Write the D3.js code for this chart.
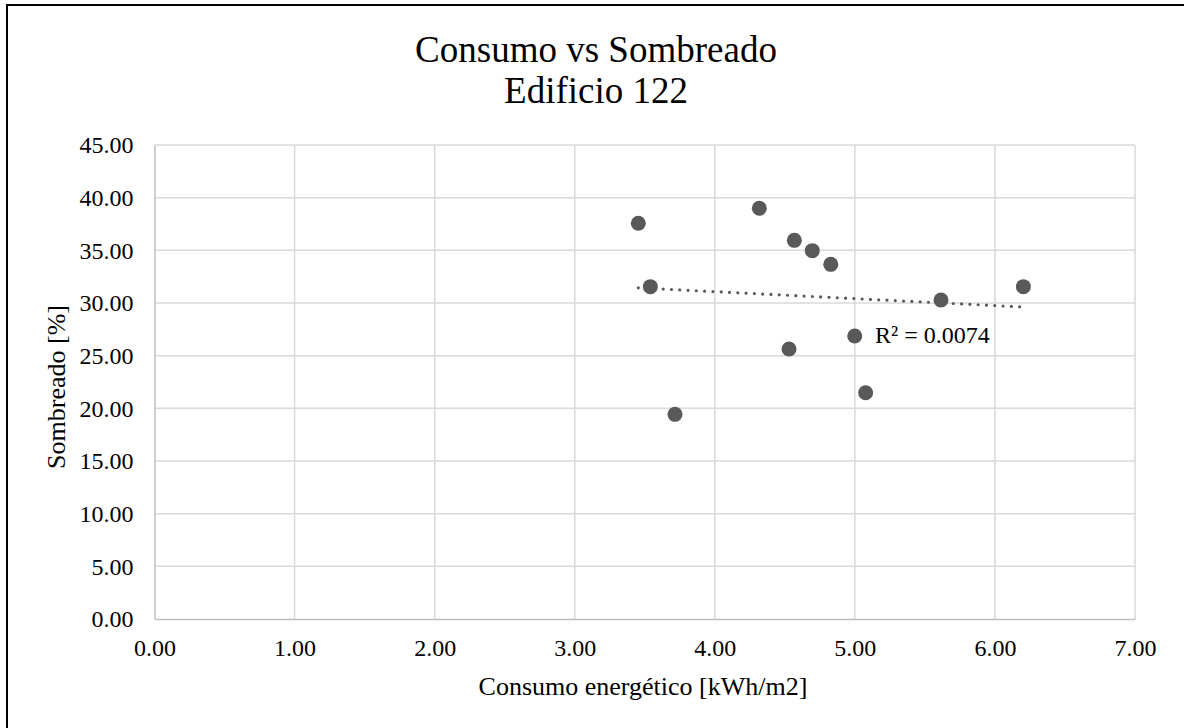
<!DOCTYPE html>
<html>
<head>
<meta charset="utf-8">
<script src="https://cdn.jsdelivr.net/npm/d3@7"></script>
<style>
  html, body { margin: 0; padding: 0; background: #fff; }
  svg { display: block; }
  text { font-family: "Liberation Serif", "Times New Roman", serif; fill: #000; }
</style>
</head>
<body>
<svg id="chart" width="1184" height="728"></svg>
<script>
// Energy use per building unit vs. shading percentage
const consumo   = [3.454, 4.318, 4.568, 4.696, 4.828, 3.540, 4.530, 3.716, 5.615, 6.203, 4.999, 5.077];
const sombreado = [37.57, 38.99, 35.95, 34.97, 33.67, 31.55, 25.63, 19.43, 30.28, 31.55, 26.87, 21.48];
const xTicks = [0, 1, 2, 3, 4, 5, 6, 7];
const yTicks = [0, 5, 10, 15, 20, 25, 30, 35, 40, 45];
const titleLines = ["Consumo vs Sombreado", "Edificio 122"];
const xTitle = "Consumo energético [kWh/m2]";
const yTitle = "Sombreado [%]";
const r2Label = "R² = 0.0074";

const svg = d3.select("#chart");
const plot = { left: 154.5, right: 1135, top: 145, bottom: 619 };

const x = d3.scaleLinear().domain([0, 7]).range([plot.left, plot.right]);
const y = d3.scaleLinear().domain([0, 45]).range([plot.bottom, plot.top]);

// Outer chart frame
svg.append("rect")
  .attr("x", 7).attr("y", 5)
  .attr("width", 1200).attr("height", 760)
  .attr("fill", "#fff").attr("stroke", "#000").attr("stroke-width", 2);

// Titles
svg.append("text")
  .attr("text-anchor", "middle")
  .attr("font-size", 37)
  .selectAll("tspan").data(titleLines).join("tspan")
  .attr("x", 596)
  .attr("y", (d, i) => 62 + i * 41)
  .text(d => d);

// Gridlines
const grid = svg.append("g");
grid.selectAll("line.v").data(xTicks.slice(1)).join("line")
  .attr("x1", d => x(d)).attr("x2", d => x(d))
  .attr("y1", plot.top).attr("y2", plot.bottom)
  .attr("stroke", "#d9d9d9").attr("stroke-width", 1.5);
grid.selectAll("line.h").data(yTicks.slice(1)).join("line")
  .attr("x1", plot.left).attr("x2", plot.right)
  .attr("y1", d => y(d)).attr("y2", d => y(d))
  .attr("stroke", "#d9d9d9").attr("stroke-width", 1.5);

// Axes drawn with d3 axis generators, domain lines kept as the plot edges
const xAxis = svg.append("g")
  .attr("transform", `translate(0,${plot.bottom})`)
  .call(d3.axisBottom(x).tickValues(xTicks).tickSize(0).tickPadding(20).tickFormat(d3.format(".2f")));
xAxis.select(".domain").attr("stroke", "#bfbfbf").attr("stroke-width", 1.5);
xAxis.selectAll("text")
  .attr("font-family", "Liberation Serif, serif").attr("font-size", 24).attr("fill", "#000");

const yAxis = svg.append("g")
  .attr("transform", `translate(${plot.left},0)`)
  .call(d3.axisLeft(y).tickValues(yTicks).tickSize(0).tickPadding(21).tickFormat(d3.format(".2f")));
yAxis.select(".domain").attr("stroke", "#bfbfbf").attr("stroke-width", 1.5);
yAxis.selectAll("text")
  .attr("font-family", "Liberation Serif, serif").attr("font-size", 24).attr("fill", "#000");

// Axis titles
svg.append("text")
  .attr("x", 643).attr("y", 695)
  .attr("text-anchor", "middle").attr("font-size", 26)
  .text(xTitle);
svg.append("text")
  .attr("transform", "translate(65,387) rotate(-90)")
  .attr("text-anchor", "middle").attr("font-size", 26)
  .text(yTitle);

// Linear least-squares trendline over the data range
const pts = consumo.map((c, i) => [c, sombreado[i]]);
const mx = d3.mean(consumo), my = d3.mean(sombreado);
const sxy = d3.sum(pts, p => (p[0] - mx) * (p[1] - my));
const sxx = d3.sum(pts, p => (p[0] - mx) ** 2);
const slope = sxy / sxx, intercept = my - slope * mx;
const [x0, x1] = d3.extent(consumo);
svg.append("path")
  .datum([[x0, intercept + slope * x0], [x1, intercept + slope * x1]])
  .attr("d", d3.line().x(d => x(d[0])).y(d => y(d[1])))
  .attr("fill", "none").attr("stroke", "#595959")
  .attr("stroke-width", 3.2).attr("stroke-linecap", "round")
  .attr("stroke-dasharray", "0 8.3");

// Scatter points
svg.append("g").selectAll("circle").data(pts).join("circle")
  .attr("cx", d => x(d[0])).attr("cy", d => y(d[1]))
  .attr("r", 7.5).attr("fill", "#595959");

// R² annotation
svg.append("text")
  .attr("x", 875).attr("y", 343)
  .attr("font-size", 24)
  .text(r2Label);
</script>
</body>
</html>
